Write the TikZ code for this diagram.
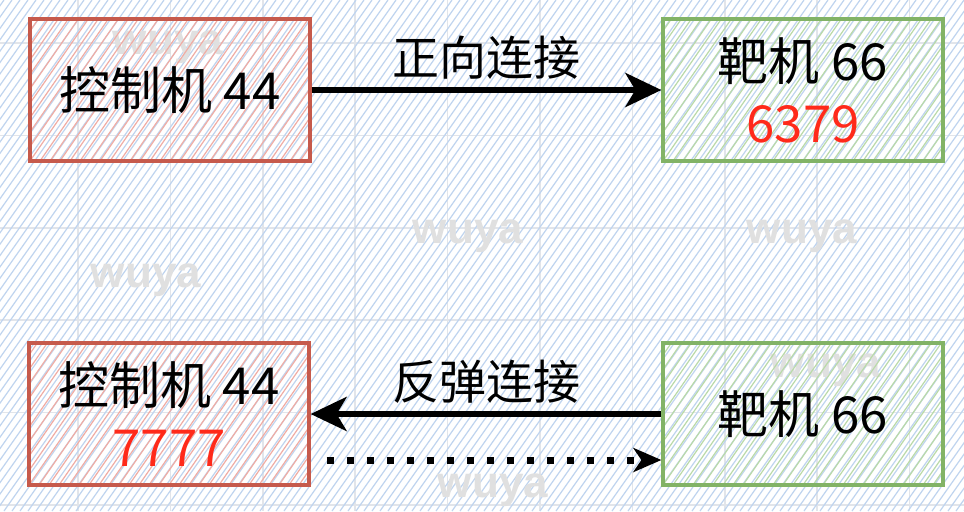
\documentclass[tikz,border=0pt]{standalone}
\usepackage{fontspec}
\setmainfont{Noto Sans CJK SC}
\newfontfamily\wmfont{Liberation Sans}
\usetikzlibrary{arrows.meta,positioning}

\definecolor{ctrlline}{HTML}{C65A4C}
\definecolor{ctrlhatch}{HTML}{F0ADA5}
\definecolor{tgtline}{HTML}{82B366}
\definecolor{tgthatch}{HTML}{BADAA9}
\definecolor{portred}{HTML}{FF2A1A}
\definecolor{bghatch}{HTML}{BFD4EF}
\definecolor{gridline}{HTML}{E2E5EA}
\definecolor{wmgray}{HTML}{E0E0E0}

\begin{document}
\begin{tikzpicture}[x=0.5pt,y=-0.5pt]
\tikzset{
  box/.style={draw=#1line, line width=1.6pt, minimum width=140pt, minimum height=71pt,
    align=center, font=\fontsize{25.5}{31}\selectfont,
    path picture={\foreach \k in {-170,-165,...,80}
      \draw[#1hatch, line width=0.6pt] ([xshift=\k pt]path picture bounding box.south) -- ++(180,-260);}},
  conn/.style={line width=3pt, -{Stealth[length=18pt,width=17pt,inset=5pt]}},
  dots/.style={line width=3.5pt, dash pattern=on 3.5pt off 6.5pt, -{Stealth[length=14pt,width=12pt,inset=4pt]}},
  tag/.style={above=0.5pt, font=\fontsize{23.5}{26}\selectfont},
  wm/.style={text=wmgray, font=\wmfont\bfseries\fontsize{22}{24}\selectfont}
}
\useasboundingbox (0,0) rectangle (964,511);
\fill[white] (0,0) rectangle (964,511);
\begin{scope}
  \clip (0,0) rectangle (964,511);
  \foreach \g in {0,...,9} \draw[gridline, line width=0.8pt] ({78+92.4*\g},0) -- ++(0,511);
  \foreach \g in {0,...,5} \draw[gridline, line width=0.8pt] (0,{43+92.4*\g}) -- ++(964,0);
  \foreach \i in {-380,-372,...,970} \draw[bghatch, line width=0.6pt] (\i,511) -- ++(360,-511);
\end{scope}

\node[wm] (wmA) at (168,47) {wuya};
\node[wm] (wmB) at (468,236) {wuya};
\node[wm] (wmC) at (802,236) {wuya};
\node[wm] (wmD) at (146,280) {wuya};
\node[wm] (wmE) at (826,370) {wuya};
\node[wm] (wmF) at (493,490) {wuya};

\node[box=ctrl] (ctrlA) at (170,90) {控制机 44};
\node[box=tgt] (tgtA) at (803,90) {靶机 66\\\textcolor{portred}{6379}};
\node[box=ctrl] (ctrlB) at (169,414) {控制机 44\\\textcolor{portred}{7777}};
\node[box=tgt] (tgtB) at (803,414) {靶机 66};

\draw[conn] (ctrlA) -- node[tag]{正向连接} (tgtA);
\draw[conn] (tgtB) -- node[tag]{反弹连接} (ctrlB);
\draw[dots] ([xshift=8pt,yshift=-23pt]ctrlB.east) -- ([yshift=-23pt]tgtB.west);
\end{tikzpicture}
\end{document}
